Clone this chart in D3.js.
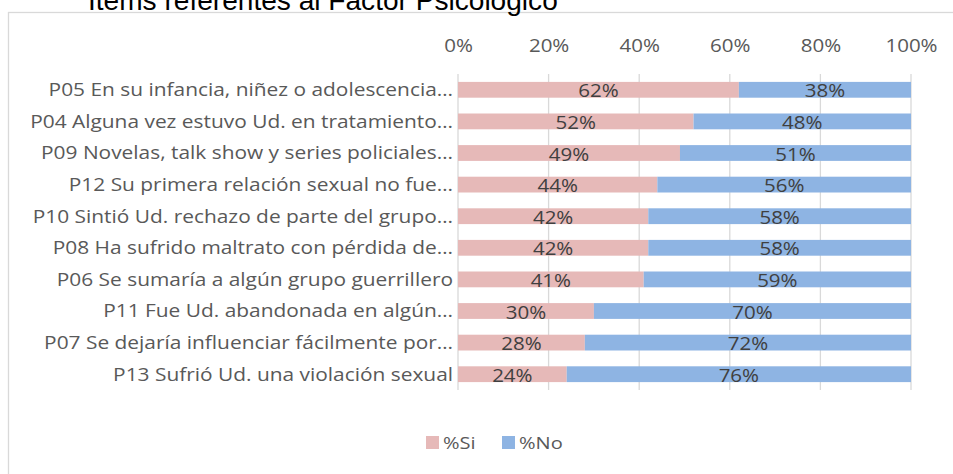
<!DOCTYPE html>
<html>
<head>
<meta charset="utf-8">
<script src="https://cdn.jsdelivr.net/npm/d3@7"></script>
<style>
  body { margin: 0; background: #fff; }
  text { font-family: "Open Sans", "Liberation Sans", sans-serif; }
</style>
</head>
<body>
<script>
var categories = [
  "P05 En su infancia, niñez o adolescencia…",
  "P04 Alguna vez estuvo Ud. en tratamiento…",
  "P09 Novelas, talk show y series policiales…",
  "P12 Su primera relación sexual no fue…",
  "P10 Sintió Ud. rechazo de parte del grupo…",
  "P08 Ha sufrido maltrato con pérdida de…",
  "P06 Se sumaría a algún grupo guerrillero",
  "P11 Fue Ud. abandonada en algún…",
  "P07 Se dejaría influenciar fácilmente por…",
  "P13 Sufrió Ud. una violación sexual"
];
var siValues = [62, 52, 49, 44, 42, 42, 41, 30, 28, 24];
var noValues = [38, 48, 51, 56, 58, 58, 59, 70, 72, 76];
var seriesNames = ["%Si", "%No"];
var seriesColors = ["#E6B9B8", "#8EB4E3"];
var tickValues = [0, 20, 40, 60, 80, 100];

var width = 953, height = 474;
var margin = { top: 74, left: 458, right: 42, bottom: 84 };

// the source picture is a bit wider than tall, so widen the glyphs a little
function stretch(sel, k) {
  sel.each(function () {
    var w = this.getComputedTextLength();
    d3.select(this)
      .attr("textLength", w * k)
      .attr("lengthAdjust", "spacingAndGlyphs");
  });
}

var svg = d3.select("body").append("svg")
  .attr("width", width)
  .attr("height", height);

// chart frame
svg.append("rect")
  .attr("x", 8.5).attr("y", 12.5)
  .attr("width", 960).attr("height", 480)
  .attr("fill", "none")
  .attr("stroke", "#D9D9D9")
  .attr("stroke-width", 1.3);

// title (partly cut at the top)
svg.append("text")
  .attr("x", 88).attr("y", 10)
  .style("font-family", "'Liberation Sans', Arial, sans-serif")
  .attr("font-size", 27)
  .attr("fill", "#000")
  .text("Ítems referentes al Factor Psicológico")
  .call(stretch, 1.04);

var x = d3.scaleLinear()
  .domain([0, 100])
  .range([margin.left, width - margin.right]);

var y = d3.scaleBand()
  .domain(categories)
  .range([margin.top, height - margin.bottom])
  .paddingInner(0.5)
  .paddingOuter(0.25);

var rows = categories.map(function (c, i) {
  return { cat: c, si: siValues[i], no: noValues[i] };
});
var stack = d3.stack().keys(["si", "no"]);
var layers = stack(rows);

// gridlines
svg.append("g")
  .selectAll("line")
  .data(tickValues)
  .enter().append("line")
  .attr("x1", function (d) { return x(d); })
  .attr("x2", function (d) { return x(d); })
  .attr("y1", margin.top)
  .attr("y2", height - margin.bottom)
  .attr("stroke", "#D9D9D9")
  .attr("stroke-width", 1.3);

// top axis labels
var xAxis = d3.axisTop(x)
  .tickValues(tickValues)
  .tickFormat(function (d) { return d + "%"; })
  .tickSize(0)
  .tickPadding(0);

var ax = svg.append("g")
  .attr("transform", "translate(0,52)")
  .call(xAxis);
ax.select(".domain").remove();
ax.selectAll("text")
  .attr("font-size", 19)
  .attr("fill", "#595959")
  .style("font-family", "'Open Sans', sans-serif")
  .call(stretch, 1.08);

// bars
var layer = svg.selectAll(".layer")
  .data(layers)
  .enter().append("g")
  .attr("class", "layer")
  .attr("fill", function (d, i) { return seriesColors[i]; });

layer.selectAll("rect")
  .data(function (d) { return d; })
  .enter().append("rect")
  .attr("x", function (d) { return x(d[0]); })
  .attr("y", function (d) { return y(d.data.cat); })
  .attr("width", function (d) { return x(d[1]) - x(d[0]); })
  .attr("height", y.bandwidth());

// data labels
layer.selectAll("text")
  .data(function (d) { return d; })
  .enter().append("text")
  .attr("x", function (d) { return (x(d[0]) + x(d[1])) / 2; })
  .attr("y", function (d) { return y(d.data.cat) + y.bandwidth() / 2; })
  .attr("dy", "0.4em")
  .attr("text-anchor", "middle")
  .attr("font-size", 19)
  .attr("fill", "#404040")
  .text(function (d) { return (d[1] - d[0]) + "%"; })
  .call(stretch, 1.08);

// category labels
var yAxis = d3.axisLeft(y).tickSize(0).tickPadding(5);
var ay = svg.append("g")
  .attr("transform", "translate(" + margin.left + ",0)")
  .call(yAxis);
ay.select(".domain").remove();
ay.selectAll("text")
  .attr("font-size", 18)
  .attr("dy", "0.35em")
  .attr("fill", "#595959")
  .style("font-family", "'Open Sans', sans-serif")
  .call(stretch, 1.16);

// legend
var legend = svg.append("g").attr("transform", "translate(426,443)");
var lx = [0, 76];
seriesNames.forEach(function (name, i) {
  var g = legend.append("g").attr("transform", "translate(" + lx[i] + ",0)");
  g.append("rect")
    .attr("x", 0).attr("y", -7)
    .attr("width", 13).attr("height", 13)
    .attr("fill", seriesColors[i]);
  g.append("text")
    .attr("x", 17).attr("y", 0)
    .attr("dy", "0.36em")
    .attr("font-size", 17)
    .attr("fill", "#595959")
    .text(name)
    .call(stretch, 1.18);
});
</script>
</body>
</html>
